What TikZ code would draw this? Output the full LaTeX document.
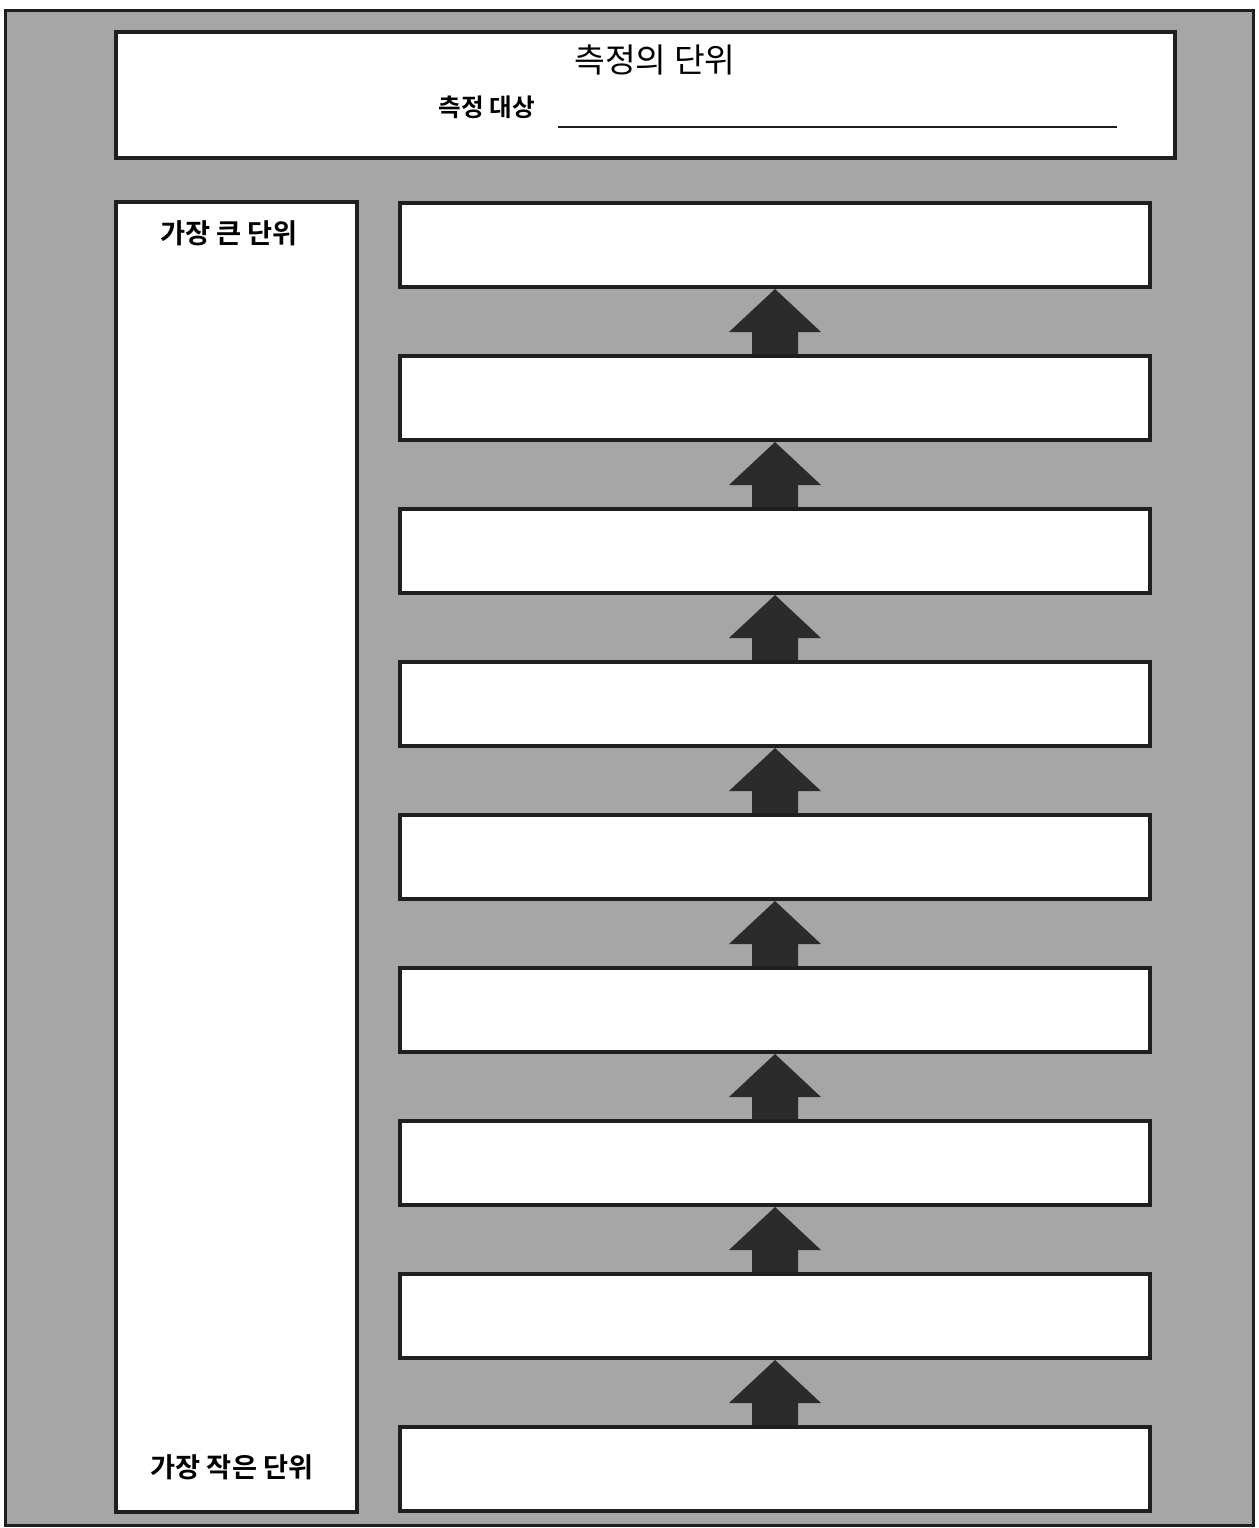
\documentclass[tikz,border=0pt]{standalone}
\usepackage{fontspec}
\newfontfamily\kr{Noto Sans CJK KR}[BoldFont={Noto Sans CJK KR Bold}]
\usetikzlibrary{positioning,calc}
\definecolor{bggray}{gray}{0.65}
\definecolor{inkblack}{gray}{0.12}
\definecolor{arrowblack}{gray}{0.17}

\begin{document}
\begin{tikzpicture}[
  box/.style={draw=inkblack,line width=0.08cm,fill=white,inner sep=0pt},
  unitbox/.style={box,minimum width=15cm,minimum height=1.68cm},
  label/.style={font=\kr\bfseries\fontsize{15.5}{18}\selectfont},
  arrowfill/.style={fill=arrowblack},
  node distance=1.3cm
]
\useasboundingbox (0,0) rectangle (25.16,-30.56);
\draw[fill=bggray,line width=0.06cm,draw=inkblack] (0.12,-0.2) rectangle (25.06,-30.5);

% title
\node[box,anchor=north west,minimum width=21.18cm,minimum height=2.52cm] (title) at (2.28,-0.6) {};
\node[font=\kr\fontsize{19}{22}\selectfont] (titletext) at (13.1,-1.2) {측정의 단위};
\node[font=\kr\bfseries\fontsize{14}{17}\selectfont] (target) at (9.74,-2.14) {측정 대상};
\coordinate (lineA) at (11.16,-2.54);
\coordinate (lineB) at (22.34,-2.54);
\draw[inkblack,line width=0.045cm] (lineA) -- (lineB);

% left column
\node[box,anchor=north west,minimum width=4.82cm,minimum height=26.2cm] (side) at (2.28,-4.0) {};
\node[label] (biggest) at (4.58,-4.66) {가장 큰 단위};
\node[label] (smallest) at (4.64,-29.34) {가장 작은 단위};

% unit boxes
\node[unitbox] (b1) at (15.5,-4.9) {};
\foreach \i [count=\j from 2] in {1,...,8}
  \node[unitbox,below=of b\i] (b\j) {};

% arrows
\foreach \i [count=\j from 2] in {1,...,8}
  \fill[arrowfill] ($(b\j.north)+(-0.46,0)$) -- ($(b\j.north)+(0.46,0)$)
    -- ($(b\i.south)+(0.46,-0.86)$) -- ($(b\i.south)+(0.92,-0.86)$)
    -- (b\i.south) -- ($(b\i.south)+(-0.92,-0.86)$)
    -- ($(b\i.south)+(-0.46,-0.86)$) -- cycle;
\end{tikzpicture}
\end{document}
